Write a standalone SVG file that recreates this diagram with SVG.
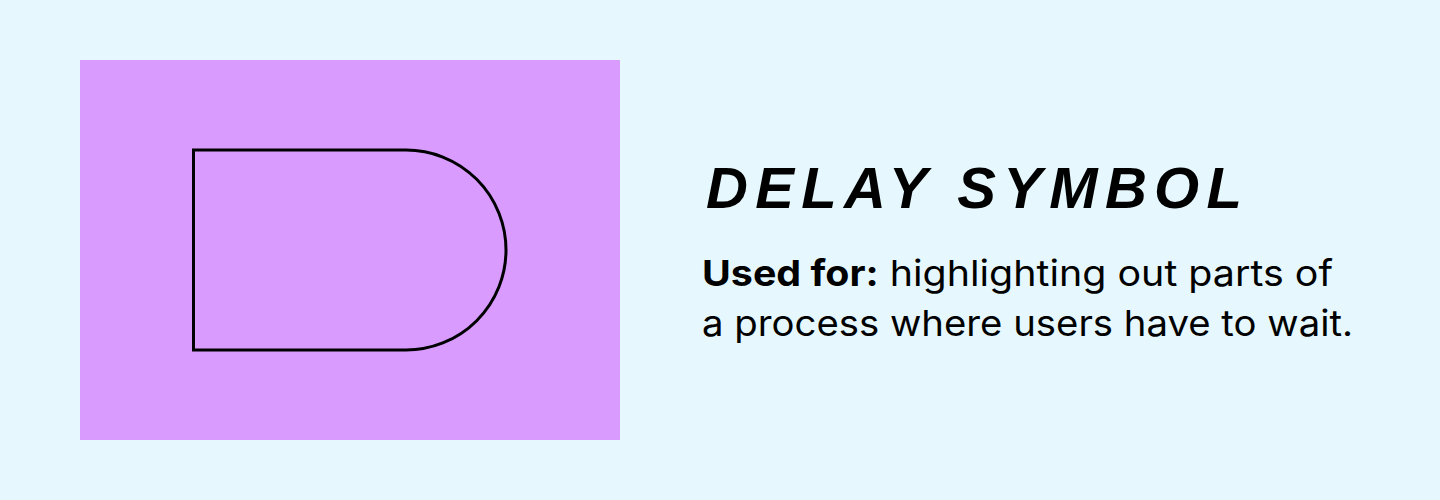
<svg xmlns="http://www.w3.org/2000/svg" width="1440" height="500" viewBox="0 0 1440 500">
  <style>
    .title { font-family: "Liberation Sans", Arial, sans-serif; font-size: 58px; font-weight: 700; font-style: italic; fill: #000; }
    .body { font-family: Inter, "Liberation Sans", sans-serif; font-size: 36px; fill: #000; }
    .b { font-weight: 700; }
    .shape { fill: none; stroke: #000; stroke-width: 3; }
  </style>
  <rect x="0" y="0" width="1440" height="500" fill="#E6F8FE"/>
  <g id="panel">
    <rect x="80" y="60" width="540" height="380" fill="#D99BFE"/>
  </g>
  <g id="delay-symbol">
    <path class="shape" d="M193.5 150 H406 A100 100 0 0 1 406 350 H193.5 Z"/>
  </g>
  <g id="title">
    <text class="title" x="706" y="208" textLength="536" lengthAdjust="spacing">DELAY SYMBOL</text>
  </g>
  <g id="description">
    <text class="body" x="702" y="286" textLength="631" lengthAdjust="spacingAndGlyphs"><tspan class="b">Used for:</tspan> highlighting out parts of</text>
    <text class="body" x="702" y="336" textLength="651" lengthAdjust="spacingAndGlyphs">a process where users have to wait.</text>
  </g>
  <g id="connectors"/>
</svg>
